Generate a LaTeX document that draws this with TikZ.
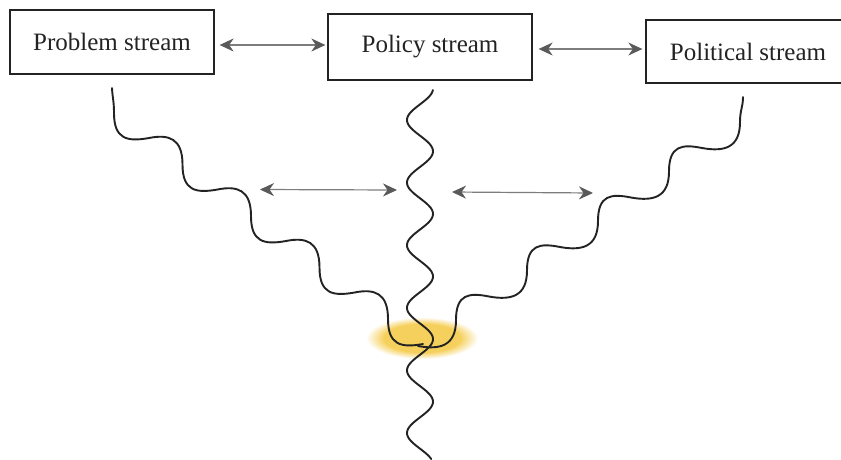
\documentclass[tikz,border=0pt]{standalone}
\usepackage{fontspec}
\setmainfont{Liberation Serif}
\usetikzlibrary{arrows.meta}
\definecolor{hl}{RGB}{246,208,92}
\definecolor{arr}{RGB}{125,125,125}
\definecolor{arrhead}{RGB}{90,90,90}
\definecolor{ink}{RGB}{35,35,35}
\pgfdeclareradialshading{glow}{\pgfpoint{0bp}{0bp}}{color(0bp)=(hl); color(17bp)=(hl); color(25bp)=(white); color(50bp)=(white)}
\tikzset{
  box/.style={draw=ink, line width=1.3pt, inner sep=0pt, text=ink,
    font=\fontsize{25}{30}\selectfont, minimum width=204pt},
  biarrow/.style={draw=arr, line width=1.2pt,
    {Stealth[length=14pt,width=13pt,inset=4.5pt,color=arrhead]}-{Stealth[length=14pt,width=13pt,inset=4.5pt,color=arrhead]}},
  wave/.style={draw=ink, line width=1.9pt, line cap=round, line join=round}
}
\begin{document}
\begin{tikzpicture}[x=1pt,y=-1pt]
\fill[white] (0,0) rectangle (841,459);
\useasboundingbox (0,0) rectangle (841,459);

% highlight
\shade[shading=glow] (422,338) ellipse [x radius=56, y radius=21];

% staircase coordinates
\foreach \k in {0,...,4} {
  \coordinate (LV\k) at ({114+68.5*\k},{113+51.5*\k});
  \coordinate (LH\k) at ({149+68.5*\k},{138+51.5*\k});
  \coordinate (RV\k) at ({740-71*\k},{122+49.5*\k});
  \coordinate (RH\k) at ({702-71*\k},{148+49.5*\k});
}
\coordinate (LS) at (112,88);
\coordinate (RS) at (743,97);

% left stream
\draw[wave] (LS) .. controls +(0.5,10) and +(0,-12) .. (LV0)
  .. controls +(0,26) and +(-22,4) .. (LH0)
  .. controls +(20,-4) and +(0,-26) .. (LV1)
  .. controls +(0,26) and +(-22,4) .. (LH1)
  .. controls +(20,-4) and +(0,-26) .. (LV2)
  .. controls +(0,26) and +(-22,4) .. (LH2)
  .. controls +(20,-4) and +(0,-26) .. (LV3)
  .. controls +(0,26) and +(-22,4) .. (LH3)
  .. controls +(20,-4) and +(0,-26) .. (LV4)
  .. controls +(0,26) and +(-22,4) .. (LH4);

% right stream
\draw[wave] (RS) .. controls +(0,10) and +(0,-12) .. (RV0)
  .. controls +(0,26) and +(22,4) .. (RH0)
  .. controls +(-20,-4) and +(0,-26) .. (RV1)
  .. controls +(0,26) and +(22,4) .. (RH1)
  .. controls +(-20,-4) and +(0,-26) .. (RV2)
  .. controls +(0,26) and +(22,4) .. (RH2)
  .. controls +(-20,-4) and +(0,-26) .. (RV3)
  .. controls +(0,26) and +(22,4) .. (RH3)
  .. controls +(-20,-4) and +(0,-26) .. (RV4)
  .. controls +(0,26) and +(22,4) .. (RH4);

% central stream
\draw[wave] plot[domain=90:459, samples=260, smooth]
  ({420-13*cos(5.7508*(\x-120))}, \x);

% boxes
\node[box, minimum height=64pt] (prob) at (112,42) {Problem stream};
\node[box, minimum height=66pt] (pol) at (430,47) {Policy stream};
\node[box, minimum height=63pt] (polit) at (748,51.5) {Political stream};

% arrows between boxes
\coordinate (a1) at (0,45);
\coordinate (a2) at (0,49);
\draw[biarrow, shorten <=5pt, shorten >=2pt] (prob.east |- a1) -- (pol.west |- a1);
\draw[biarrow, shorten <=6pt, shorten >=3pt] (pol.east |- a2) -- (polit.west |- a2);

% arrows between streams
\coordinate (m1l) at (260,189.5);
\coordinate (m1r) at (397,190);
\coordinate (m2l) at (452,192);
\coordinate (m2r) at (593,193);
\draw[biarrow] (m1l) -- (m1r);
\draw[biarrow] (m2l) -- (m2r);
\end{tikzpicture}
\end{document}
